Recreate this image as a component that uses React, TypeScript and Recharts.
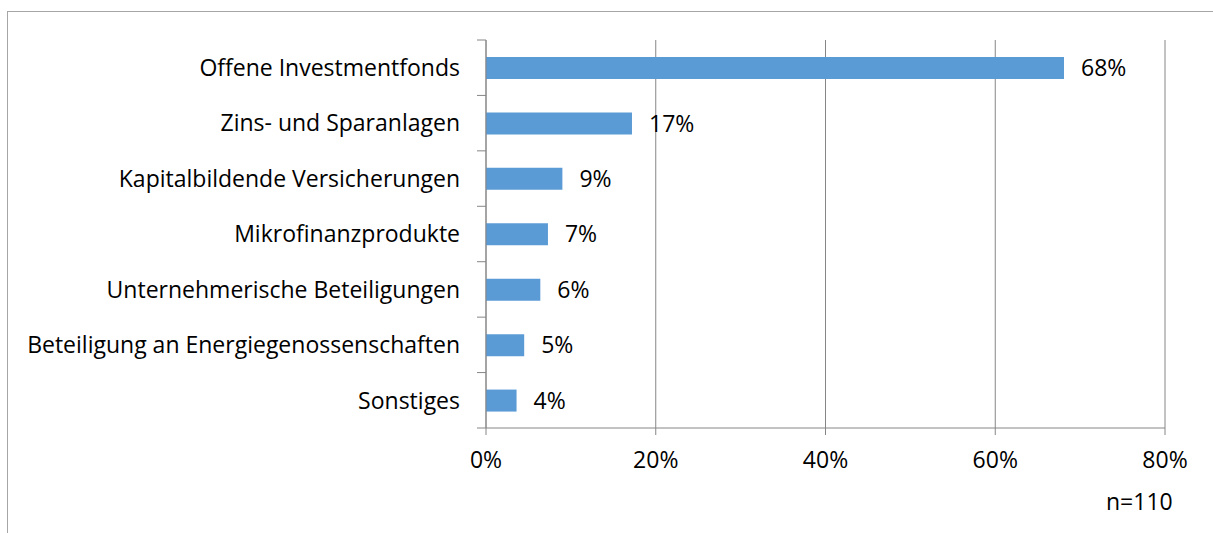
import React from "react";
import { BarChart, Bar, XAxis, YAxis, CartesianGrid, LabelList } from "recharts";

const categories = [
  "Offene Investmentfonds",
  "Zins- und Sparanlagen",
  "Kapitalbildende Versicherungen",
  "Mikrofinanzprodukte",
  "Unternehmerische Beteiligungen",
  "Beteiligung an Energiegenossenschaften",
  "Sonstiges",
];
const shares = [68.1, 17.2, 9.0, 7.3, 6.4, 4.5, 3.6];
const shareLabels = ["68%", "17%", "9%", "7%", "6%", "5%", "4%"];
const xTicks = [0, 20, 40, 60, 80];
const sampleNote = "n=110";

const data = categories.map((name, i) => ({ name, value: shares[i], label: shareLabels[i] }));

const WIDTH = 1213;
const HEIGHT = 533;
const MARGIN = { top: 40, right: 48, bottom: 75, left: 0 };
const X_AXIS_HEIGHT = 30;
const Y_AXIS_WIDTH = 486;
const TICK_LEN = 9;
const TICK_GAP = 17;
const PLOT_H = HEIGHT - MARGIN.top - MARGIN.bottom - X_AXIS_HEIGHT;
const HALF_BAND = PLOT_H / categories.length / 2;

const FONT = "'Open Sans', sans-serif";
const FONT_SIZE = 23;
const AXIS_COLOR = "#868686";
const BAR_COLOR = "#5B9BD5";

// category labels + Excel-style tick marks between categories
const CategoryTick = (props: any) => {
  const { x, y, payload } = props;
  const index = props.index ?? payload.index;
  const axisX = x + TICK_LEN + TICK_GAP;
  return (
    <g>
      <line x1={axisX - TICK_LEN} x2={axisX} y1={y - HALF_BAND} y2={y - HALF_BAND} stroke={AXIS_COLOR} />
      {index === categories.length - 1 && (
        <line x1={axisX - TICK_LEN} x2={axisX} y1={y + HALF_BAND} y2={y + HALF_BAND} stroke={AXIS_COLOR} />
      )}
      <text x={x} y={y} dy="0.36em" textAnchor="end" fill="#000" fontSize={FONT_SIZE} fontFamily={FONT}>
        {payload.value}
      </text>
    </g>
  );
};

export default function App() {
  return (
    <div style={{ position: "absolute", left: 0, top: 0, width: WIDTH, height: HEIGHT, overflow: "hidden", background: "#fff" }}>
      <div style={{
        position: "absolute", left: 7, top: 11, width: 1400, height: 700,
        border: "1px solid #a6a6a6", boxSizing: "border-box",
      }} />
      <BarChart
        width={WIDTH}
        height={HEIGHT}
        data={data}
        layout="vertical"
        margin={MARGIN}
        style={{ position: "absolute", left: 0, top: 0 }}
      >
        <CartesianGrid horizontal={false} stroke={AXIS_COLOR} />
        <XAxis
          type="number"
          domain={[0, 80]}
          ticks={xTicks}
          tickFormatter={(v: number) => `${v}%`}
          height={X_AXIS_HEIGHT}
          axisLine={{ stroke: AXIS_COLOR }}
          tickLine={{ stroke: AXIS_COLOR }}
          tickSize={7}
          tickMargin={17}
          tick={{ fill: "#000", fontSize: FONT_SIZE, fontFamily: FONT }}
        />
        <YAxis
          type="category"
          dataKey="name"
          width={Y_AXIS_WIDTH}
          axisLine={{ stroke: AXIS_COLOR }}
          tickLine={false}
          tickSize={TICK_LEN}
          tickMargin={TICK_GAP}
          interval={0}
          tick={<CategoryTick />}
        />
        <Bar dataKey="value" fill={BAR_COLOR} barSize={22} isAnimationActive={false}>
          <LabelList
            dataKey="label"
            position="right"
            offset={17}
            fill="#000"
            fontSize={FONT_SIZE}
            fontFamily={FONT}
          />
        </Bar>
      </BarChart>
      <div style={{
        position: "absolute", left: 1106, top: 490, fontFamily: FONT, fontSize: FONT_SIZE,
        lineHeight: `${FONT_SIZE}px`, color: "#000",
      }}>
        {sampleNote}
      </div>
    </div>
  );
}
